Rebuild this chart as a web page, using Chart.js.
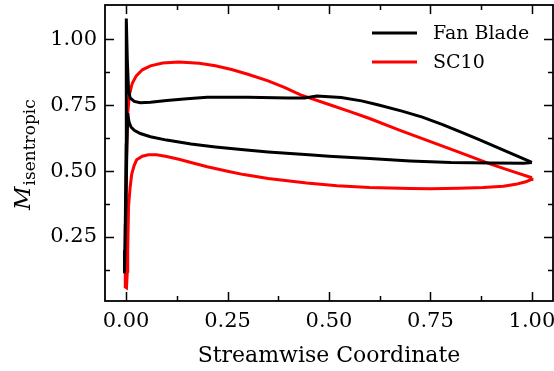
<!DOCTYPE html>
<html>
<head>
<meta charset="utf-8">
<script src="https://cdn.jsdelivr.net/npm/chart.js@4/dist/chart.umd.min.js"></script>
<style>
  html, body { margin: 0; padding: 0; background: #fff; }
  canvas { display: block; }
</style>
</head>
<body>
<canvas id="c" width="554" height="371"></canvas>
<script>
// Isentropic Mach number along the blade, traced trailing edge -> one surface -> leading edge -> other surface -> trailing edge
const seriesNames = ['Fan Blade', 'SC10'];

const fanX = [1.0, 0.98, 0.9, 0.8, 0.7, 0.6, 0.5, 0.45, 0.35, 0.29, 0.22, 0.16, 0.1, 0.06, 0.035, 0.02, 0.012, 0.007, 0.004,
              0.002, 0.0, -0.003, -0.004, -0.002, 0.0, 0.0, 0.001, 0.003, 0.006, 0.01, 0.02, 0.035, 0.06, 0.1, 0.15, 0.2,
              0.3, 0.4, 0.44, 0.47, 0.5, 0.53, 0.58, 0.62, 0.68, 0.73, 0.78, 0.83, 0.87, 0.93, 0.97, 1.0];
const fanY = [0.533, 0.530, 0.531, 0.533, 0.539, 0.548, 0.557, 0.562, 0.573, 0.581, 0.592, 0.603, 0.618, 0.631, 0.643, 0.655, 0.668, 0.688, 0.72,
              0.6, 0.4, 0.2, 0.112, 0.3, 0.6, 0.9, 1.08, 0.92, 0.81, 0.778, 0.765, 0.760, 0.762, 0.768, 0.775, 0.781,
              0.781, 0.778, 0.778, 0.785, 0.783, 0.780, 0.767, 0.752, 0.728, 0.705, 0.677, 0.645, 0.62, 0.58, 0.553, 0.533];

const sc10X = [1.0, 0.95, 0.9, 0.82, 0.74, 0.675, 0.6, 0.55, 0.5, 0.43, 0.39, 0.35, 0.3, 0.26, 0.22, 0.18, 0.13, 0.09, 0.06, 0.04,
               0.025, 0.015, 0.008, 0.004, 0.001, -0.001, -0.002, 0.001, 0.003, 0.004, 0.006, 0.01, 0.014, 0.02, 0.026, 0.04,
               0.055, 0.075, 0.1, 0.13, 0.16, 0.2, 0.25, 0.29, 0.35, 0.445, 0.52, 0.6, 0.7, 0.75, 0.82, 0.88, 0.93, 0.96,
               0.985, 0.998, 1.0];
const sc10Y = [0.475, 0.50, 0.526, 0.572, 0.618, 0.655, 0.70, 0.727, 0.753, 0.790, 0.818, 0.843, 0.868, 0.886, 0.9, 0.910, 0.915, 0.911, 0.9, 0.885,
               0.862, 0.833, 0.79, 0.72, 0.55, 0.3, 0.06, 0.057, 0.12, 0.2, 0.366, 0.44, 0.49, 0.522, 0.543, 0.557,
               0.562, 0.562, 0.556, 0.545, 0.533, 0.517, 0.5, 0.487, 0.472, 0.455, 0.445, 0.438, 0.434, 0.433, 0.435, 0.438, 0.443, 0.45,
               0.46, 0.468, 0.475];

const xMajor = [0, 0.25, 0.5, 0.75, 1.0];
const xMinor = [0.125, 0.375, 0.625, 0.875];
const yMajor = [0.25, 0.5, 0.75, 1.0];
const yMinor = [0.125, 0.375, 0.625, 0.875];

const xTitle = 'Streamwise Coordinate';
const yTitleMain = 'M';
const yTitleSub = 'isentropic';

const SERIF = '"DejaVu Serif", "Liberation Serif", serif';

function pts(xs, ys) { return xs.map((x, i) => ({ x: x, y: ys[i] })); }

function noPad(s) { s.paddingLeft = 0; s.paddingRight = 0; s.paddingTop = 0; s.paddingBottom = 0; }

// Frame, inward ticks on all sides, axis titles and legend
const axesDecor = {
  id: 'axesDecor',
  afterDraw(chart) {
    const ctx = chart.ctx;
    const a = chart.chartArea;
    const sx = chart.scales.x, sy = chart.scales.y;
    ctx.save();
    ctx.strokeStyle = '#000';
    ctx.lineCap = 'butt';

    ctx.lineWidth = 1.5;
    const xTicks = (vals, len) => vals.forEach(v => {
      const p = Math.round(sx.getPixelForValue(v)) + 0.5;
      ctx.beginPath();
      ctx.moveTo(p, a.bottom); ctx.lineTo(p, a.bottom - len);
      ctx.moveTo(p, a.top); ctx.lineTo(p, a.top + len);
      ctx.stroke();
    });
    const yTicks = (vals, len) => vals.forEach(v => {
      const p = Math.round(sy.getPixelForValue(v)) + 0.5;
      ctx.beginPath();
      ctx.moveTo(a.left, p); ctx.lineTo(a.left + len, p);
      ctx.moveTo(a.right, p); ctx.lineTo(a.right - len, p);
      ctx.stroke();
    });
    xTicks(xMajor, 9); xTicks(xMinor, 5);
    yTicks(yMajor, 9); yTicks(yMinor, 5);

    ctx.lineWidth = 1.8;
    ctx.strokeRect(a.left, a.top, a.right - a.left, a.bottom - a.top);

    // x title
    ctx.fillStyle = '#000';
    ctx.font = '22px ' + SERIF;
    ctx.textAlign = 'center';
    ctx.textBaseline = 'alphabetic';
    ctx.fillText(xTitle, (a.left + a.right) / 2, 362);

    // y title with subscript, reading upward
    ctx.save();
    ctx.translate(30, 210);
    ctx.rotate(-Math.PI / 2);
    ctx.textAlign = 'left';
    ctx.font = 'italic 23px ' + SERIF;
    ctx.fillText(yTitleMain, 0, 0);
    const mw = ctx.measureText(yTitleMain).width;
    ctx.font = '17px ' + SERIF;
    ctx.fillText(yTitleSub, mw + 1, 5);
    ctx.restore();

    // legend
    const rows = [33, 62];
    chart.data.datasets.forEach((ds, i) => {
      const yy = rows[i];
      ctx.strokeStyle = ds.borderColor;
      ctx.lineWidth = ds.borderWidth;
      ctx.beginPath();
      ctx.moveTo(372, yy); ctx.lineTo(417, yy);
      ctx.stroke();
      ctx.fillStyle = '#000';
      ctx.font = '19px ' + SERIF;
      ctx.textAlign = 'left';
      ctx.textBaseline = 'middle';
      ctx.fillText(ds.label, 433, yy + 1);
    });
    ctx.restore();
  }
};

new Chart(document.getElementById('c'), {
  type: 'scatter',
  data: {
    datasets: [
      { label: seriesNames[0], data: pts(fanX, fanY), showLine: true, borderColor: '#000000',
        borderWidth: 3, pointRadius: 0, tension: 0, fill: false },
      { label: seriesNames[1], data: pts(sc10X, sc10Y), showLine: true, borderColor: '#ff0000',
        borderWidth: 3, pointRadius: 0, tension: 0, fill: false }
    ]
  },
  options: {
    responsive: false,
    animation: false,
    devicePixelRatio: 1,
    layout: { padding: { top: 5, right: 1, left: 0, bottom: 0 } },
    plugins: { legend: { display: false }, tooltip: { enabled: false } },
    scales: {
      x: {
        type: 'linear', min: -0.052, max: 1.052,
        afterBuildTicks: s => { s.ticks = xMajor.map(v => ({ value: v })); },
        afterFit: s => { s.height = 70; noPad(s); },
        grid: { display: false, drawTicks: false },
        border: { display: false },
        ticks: { autoSkip: false, maxRotation: 0, padding: 8, color: '#000',
                 font: { family: SERIF, size: 21 }, callback: v => Number(v).toFixed(2) }
      },
      y: {
        type: 'linear', min: 0.007, max: 1.131,
        afterBuildTicks: s => { s.ticks = yMajor.map(v => ({ value: v })); },
        afterFit: s => { s.width = 105; noPad(s); },
        grid: { display: false, drawTicks: false },
        border: { display: false },
        ticks: { autoSkip: false, padding: 8, color: '#000',
                 font: { family: SERIF, size: 21 }, callback: v => Number(v).toFixed(2) }
      }
    }
  },
  plugins: [axesDecor]
});
</script>
</body>
</html>
